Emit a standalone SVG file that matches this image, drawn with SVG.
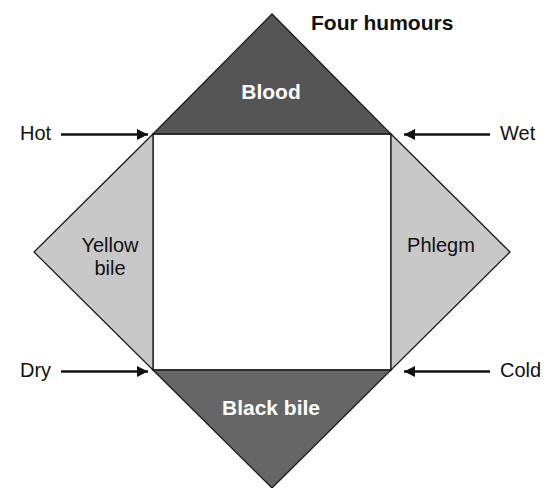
<svg xmlns="http://www.w3.org/2000/svg" width="546" height="488" viewBox="0 0 546 488">
<defs>
<style>
.lbl{font-family:"Liberation Sans",Arial,sans-serif;font-size:20px;fill:#111}
.wb{font-family:"Liberation Sans",Arial,sans-serif;font-size:21px;font-weight:bold;fill:#fff}
.ttl{font-family:"Liberation Sans",Arial,sans-serif;font-size:21px;font-weight:bold;fill:#111}
.edge{stroke:#1a1a1a;stroke-width:1.3;stroke-linejoin:miter}
.arr{stroke:#111;stroke-width:2.5;fill:none}
</style>
<marker id="ah" viewBox="0 0 10 10" refX="10" refY="5" markerWidth="5.2" markerHeight="4.4" markerUnits="strokeWidth" orient="auto">
<path d="M0,0 L10,5 L0,10 z" fill="#111"/>
</marker>
</defs>
<rect width="546" height="488" fill="#fff"/>
<g id="square"><rect x="153" y="134" width="238" height="236" fill="#fff" class="edge"/></g>
<g id="blood"><polygon points="153,134 272,14 391,134" fill="#555555" class="edge"/><text x="271" y="99" text-anchor="middle" class="wb">Blood</text></g>
<g id="blackbile"><polygon points="153,370 272,488 391,370" fill="#666666" class="edge"/><text x="271" y="415" text-anchor="middle" class="wb">Black bile</text></g>
<g id="yellowbile"><polygon points="153,134 34,252 153,370" fill="#c8c8c8" class="edge"/><text x="110" y="252" text-anchor="middle" class="lbl">Yellow</text><text x="110" y="275" text-anchor="middle" class="lbl">bile</text></g>
<g id="phlegm"><polygon points="391,134 510,252 391,370" fill="#c8c8c8" class="edge"/><text x="441" y="252" text-anchor="middle" class="lbl">Phlegm</text></g>
<g id="title"><text x="311" y="30" class="ttl">Four humours</text></g>
<g id="hot"><text x="20" y="140" class="lbl">Hot</text></g>
<g id="wet"><text x="500" y="140" class="lbl">Wet</text></g>
<g id="dry"><text x="20" y="377" class="lbl">Dry</text></g>
<g id="cold"><text x="500" y="377" class="lbl">Cold</text></g>
<g id="connectors">
<line x1="61" y1="134.5" x2="148" y2="134.5" class="arr" marker-end="url(#ah)"/>
<line x1="490" y1="134.5" x2="404" y2="134.5" class="arr" marker-end="url(#ah)"/>
<line x1="61" y1="371.5" x2="148" y2="371.5" class="arr" marker-end="url(#ah)"/>
<line x1="490" y1="371.5" x2="404" y2="371.5" class="arr" marker-end="url(#ah)"/>
</g>
</svg>
